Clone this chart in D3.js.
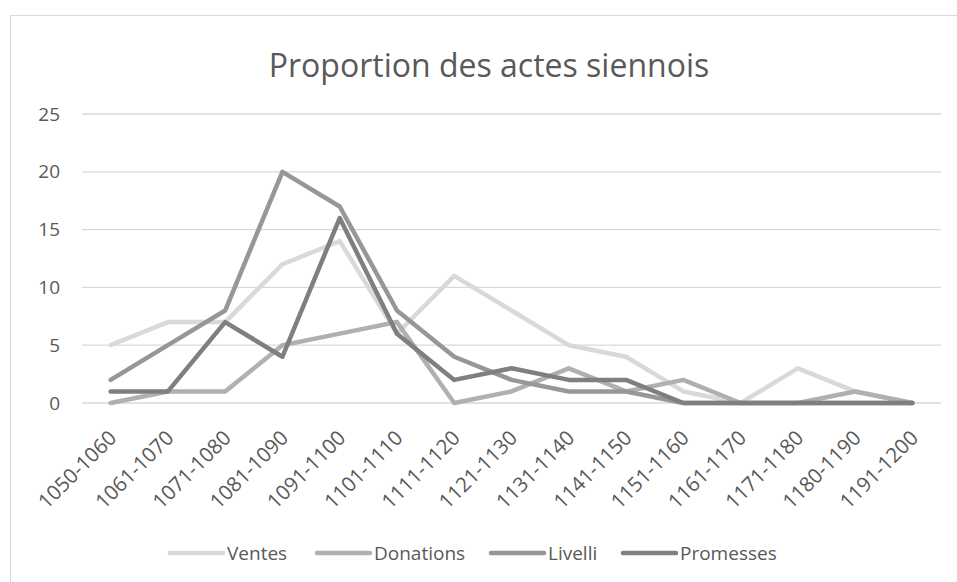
<!DOCTYPE html>
<html>
<head>
<meta charset="utf-8">
<script src="https://cdn.jsdelivr.net/npm/d3@7"></script>
<style>
  body { margin: 0; background: #fff; }
  text { font-family: 'Open Sans', 'Liberation Sans', sans-serif; fill: #595959; }
</style>
</head>
<body>
<div id="chart"></div>
<script>
const width = 957;
const height = 582;
const MARGIN = { top: 114, right: 16, bottom: 179, left: 82 };

const title = 'Proportion des actes siennois';
const periods = ['1050-1060', '1061-1070', '1071-1080', '1081-1090', '1091-1100',
  '1101-1110', '1111-1120', '1121-1130', '1131-1140', '1141-1150',
  '1151-1160', '1161-1170', '1171-1180', '1180-1190', '1191-1200'];
const seriesNames = ['Ventes', 'Donations', 'Livelli', 'Promesses'];
const ventes = [5, 7, 7, 12, 14, 6, 11, 8, 5, 4, 1, 0, 3, 1, 0];
const donations = [0, 1, 1, 5, 6, 7, 0, 1, 3, 1, 2, 0, 0, 1, 0];
const livelli = [2, 5, 8, 20, 17, 8, 4, 2, 1, 1, 0, 0, 0, 0, 0];
const promesses = [1, 1, 7, 4, 16, 6, 2, 3, 2, 2, 0, 0, 0, 0, 0];
const yTicks = [0, 5, 10, 15, 20, 25];
const colors = ['#d9d9d9', '#b0b0b0', '#979797', '#7f7f7f'];

const series = [ventes, donations, livelli, promesses];

const innerW = width - MARGIN.left - MARGIN.right;
const innerH = height - MARGIN.top - MARGIN.bottom;

const svg = d3.select('#chart')
  .append('svg')
  .attr('width', width)
  .attr('height', height);

// chart frame (runs off the right and bottom edges)
svg.append('rect')
  .attr('x', 10.5).attr('y', 15.5)
  .attr('width', width + 10).attr('height', height + 10)
  .attr('fill', '#fff')
  .attr('stroke', '#d9d9d9');

svg.append('text')
  .attr('x', 489)
  .attr('y', 77)
  .attr('text-anchor', 'middle')
  .style('font-size', '32px')
  .text(title);

const g = svg.append('g')
  .attr('transform', 'translate(' + MARGIN.left + ',' + MARGIN.top + ')');

const x = d3.scalePoint().domain(periods).range([0, innerW]).padding(0.5);
const y = d3.scaleLinear().domain([0, 25]).range([innerH, 0]);

// gridlines
g.selectAll('line.grid')
  .data(yTicks)
  .join('line')
  .classed('grid', true)
  .attr('x1', 0).attr('x2', innerW)
  .attr('y1', (d) => y(d)).attr('y2', (d) => y(d))
  .attr('stroke', '#d9d9d9')
  .attr('stroke-width', 1.3);

// y labels
g.selectAll('text.ylab')
  .data(yTicks)
  .join('text')
  .classed('ylab', true)
  .attr('x', -22)
  .attr('y', (d) => y(d))
  .attr('dy', '0.35em')
  .attr('text-anchor', 'end')
  .style('font-size', '19px')
  .text((d) => d);

// x labels
g.selectAll('text.xlab')
  .data(periods)
  .join('text')
  .classed('xlab', true)
  .attr('transform', (d) => 'translate(' + (x(d) + 2) + ',' + (innerH + 31) + ') rotate(-45)')
  .attr('text-anchor', 'end')
  .attr('dy', '0.35em')
  .style('font-size', '20.5px')
  .text((d) => d);

const line = d3.line()
  .x((d, i) => x(periods[i]))
  .y((d) => y(d));

g.selectAll('path.series')
  .data(series)
  .join('path')
  .classed('series', true)
  .attr('d', line)
  .attr('fill', 'none')
  .attr('stroke', (d, i) => colors[i])
  .attr('stroke-width', 4.5)
  .attr('stroke-linejoin', 'round')
  .attr('stroke-linecap', 'round');

// legend
const legendX = [170, 317, 491, 623];
const leg = svg.selectAll('g.legend')
  .data(seriesNames)
  .join('g')
  .classed('legend', true)
  .attr('transform', (d, i) => 'translate(' + legendX[i] + ',553)');

leg.append('line')
  .attr('x1', 0).attr('x2', 53)
  .attr('stroke', (d, i) => colors[i])
  .attr('stroke-width', 4.5)
  .attr('stroke-linecap', 'round');

leg.append('text')
  .attr('x', 57)
  .attr('dy', '0.35em')
  .style('font-size', '19px')
  .text((d) => d);
</script>
</body>
</html>
